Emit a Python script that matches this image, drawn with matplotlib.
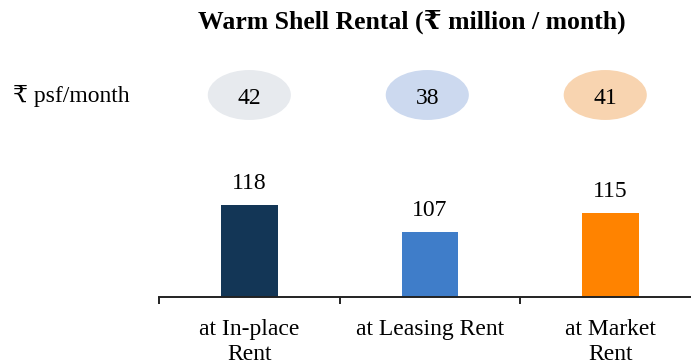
import matplotlib
matplotlib.use("Agg")
import matplotlib.pyplot as plt
from matplotlib.patches import Ellipse

plt.rcParams['font.family'] = ['Liberation Serif', 'DejaVu Serif', 'DejaVu Sans']

categories = ['at In-place\nRent', 'at Leasing Rent', 'at Market\nRent']
rental = [118, 107, 115]
psf = [42, 38, 41]

bar_colors = ['#133656', '#3F7DC9', '#FF8300']
bubble_colors = ['#E7EAEE', '#CCD9EF', '#F8D4B0']

fig = plt.figure(figsize=(6.91, 3.63), dpi=100)
ax = fig.add_axes([159 / 691, 66.3 / 363, 542 / 691, 156 / 363])

x = list(range(len(categories)))
bars = ax.bar(x, rental, width=0.315, color=bar_colors, bottom=0)
ax.set_xlim(-0.5, 2.5)
ax.set_ylim(80, 145)

for b, v in zip(bars, rental):
    ax.annotate(str(v), (b.get_x() + b.get_width() / 2, v), xytext=(0, 15.5),
                textcoords='offset points', ha='center', va='center', fontsize=17)

# spine and category separators
for s in ['top', 'left', 'right']:
    ax.spines[s].set_visible(False)
ax.spines['bottom'].set_linewidth(1.4)
ax.spines['bottom'].set_color('#222222')
ax.set_yticks([])
ax.set_xticks(x)
ax.set_xticklabels(categories, fontsize=17, linespacing=1.25)
ax.tick_params(axis='x', which='major', length=0, pad=16)
ax.set_xticks([-0.5, 0.5, 1.5, 2.5], minor=True)
ax.tick_params(axis='x', which='minor', length=5, width=1.4, color='#222222', direction='out')

# psf bubbles above the bars
trans = ax.get_xaxis_transform()
for i, (v, c) in enumerate(zip(psf, bubble_colors)):
    bx = i * 0.985
    ax.add_patch(Ellipse((bx, 1.293), 0.46, 0.32, transform=trans, facecolor=c,
                         edgecolor='none', clip_on=False))
    ax.text(bx, 1.272, str(v), transform=trans, ha='center', va='center', fontsize=17)

fig.text(12.7 / 691, (363 - 96) / 363, '₹ psf/month', ha='left', va='center', fontsize=17)
fig.text(411.5 / 691, (363 - 21.5) / 363, 'Warm Shell Rental (₹ million / month)',
         ha='center', va='center', fontsize=18.5, fontweight='bold')

fig.savefig('out.png', dpi=100)
